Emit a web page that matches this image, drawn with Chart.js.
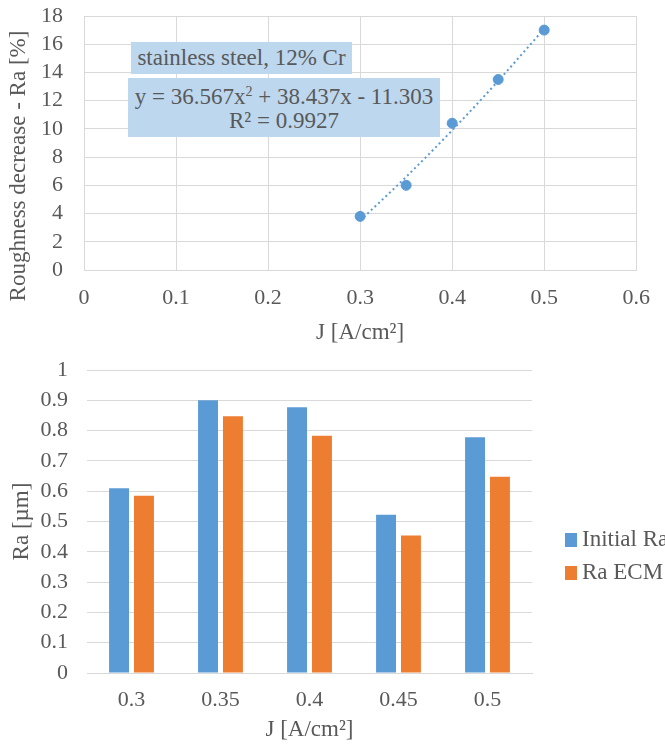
<!DOCTYPE html>
<html>
<head>
<meta charset="utf-8">
<script src="https://cdn.jsdelivr.net/npm/chart.js@4.4.1/dist/chart.umd.min.js"></script>
<style>
  html, body { margin: 0; padding: 0; background: #fff; overflow: hidden; }
  body { width: 665px; height: 749px; position: relative; font-family: "Liberation Serif", "DejaVu Serif", serif; color: #595959; }
  #top { position: absolute; left: 0; top: 0; width: 665px; height: 350px; }
  #bottom { position: absolute; left: 0; top: 345px; width: 665px; height: 404px; }
  .lbl { position: absolute; background: #bdd7ee; font-size: 23px; line-height: 24px; text-align: center; white-space: nowrap; box-sizing: border-box; }
  .lbl sup { font-size: 14px; vertical-align: 8px; line-height: 0; }
  #ytitle { position: absolute; left: -142px; top: 152px; width: 320px; height: 28px; line-height: 28px; font-size: 23px; text-align: center; white-space: nowrap; transform: rotate(-90deg); }
  #legend { position: absolute; left: 565px; top: 522px; font-size: 23px; white-space: nowrap; }
  #legend .item { height: 33px; line-height: 33px; position: relative; }
  #legend .sw { display: inline-block; width: 12px; height: 14px; margin-right: 5px; vertical-align: -1px; }
</style>
</head>
<body>
<canvas id="top" width="665" height="350"></canvas>
<canvas id="bottom" width="665" height="404"></canvas>
<div id="ytitle">Roughness decrease - Ra [%]</div>
<div class="lbl" style="left:131px;top:42px;width:221px;height:32px;line-height:32px;">stainless steel, 12% Cr</div>
<div class="lbl" style="left:128px;top:78px;width:312px;height:59px;padding-top:7px;">y = 36.567x<sup>2</sup> + 38.437x - 11.303<br>R² = 0.9927</div>
<div id="legend"></div>
<script>
// ---- Top chart data ----
const currentDensity = [0.3, 0.35, 0.4, 0.45, 0.5];
const roughnessDecrease = [3.8, 6.0, 10.4, 13.5, 17.0];
const trendX = [0.3, 0.35, 0.4, 0.45, 0.5];
const trendY = [3.5, 6.6, 9.9, 13.4, 17.1];
const topXTicks = ['0', '0.1', '0.2', '0.3', '0.4', '0.5', '0.6'];
const topYTicks = ['0', '2', '4', '6', '8', '10', '12', '14', '16', '18'];

// ---- Bottom chart data ----
const categories = ['0.3', '0.35', '0.4', '0.45', '0.5'];
const initialRa = [0.61, 0.90, 0.877, 0.522, 0.778];
const raECM = [0.585, 0.847, 0.783, 0.454, 0.648];
const seriesNames = ['Initial Ra', 'Ra ECM'];
const bottomYTicks = ['0', '0.1', '0.2', '0.3', '0.4', '0.5', '0.6', '0.7', '0.8', '0.9', '1'];

const BLUE = '#5b9bd5';
const ORANGE = '#ed7d31';
const GRID = '#d9d9d9';
const TEXT = '#595959';
const FONT = '"Liberation Serif", "DejaVu Serif", serif';

Chart.defaults.animation = false;
Chart.defaults.color = TEXT;
Chart.defaults.font.family = FONT;

new Chart(document.getElementById('top'), {
  type: 'scatter',
  data: {
    datasets: [
      {
        label: 'Trend',
        data: trendX.map((x, i) => ({x, y: trendY[i]})),
        showLine: true,
        borderColor: BLUE,
        borderWidth: 2,
        borderDash: [2, 3],
        pointRadius: 0,
        cubicInterpolationMode: 'monotone',
        fill: false
      },
      {
        label: 'Roughness decrease',
        data: currentDensity.map((x, i) => ({x, y: roughnessDecrease[i]})),
        backgroundColor: BLUE,
        borderColor: BLUE,
        pointRadius: 5,
        showLine: false
      }
    ]
  },
  options: {
    responsive: false,
    layout: { padding: { left: 0, right: 18, top: 16, bottom: 0 } },
    plugins: { legend: { display: false }, tooltip: { enabled: false } },
    scales: {
      x: {
        type: 'linear', min: 0, max: 0.6,
        afterFit: s => { s.height = 80; },
        grid: { color: GRID, drawTicks: false, lineWidth: 1 },
        border: { color: GRID },
        ticks: { stepSize: 0.1, autoSkip: false, padding: 15, font: { size: 22 }, color: TEXT,
                 callback: (v, i) => topXTicks[i] },
        title: { display: true, text: 'J [A/cm²]', font: { size: 23 }, color: TEXT, padding: { top: 0, bottom: 3 } }
      },
      y: {
        min: 0, max: 18,
        afterFit: s => { s.width = 84; s.paddingTop = 0; s.paddingBottom = 0; },
        grid: { color: GRID, drawTicks: false },
        border: { color: GRID },
        ticks: { stepSize: 2, autoSkip: false, padding: 21, font: { size: 22 }, color: TEXT,
                 callback: (v, i) => topYTicks[i] },
        title: { display: false }
      }
    }
  }
});

new Chart(document.getElementById('bottom'), {
  type: 'bar',
  data: {
    labels: categories,
    datasets: [
      { label: seriesNames[0], data: initialRa, backgroundColor: BLUE, borderWidth: 0 },
      { label: seriesNames[1], data: raECM, backgroundColor: ORANGE, borderWidth: 0 }
    ]
  },
  options: {
    responsive: false,
    layout: { padding: { left: 0, right: 133, top: 25, bottom: 0 } },
    datasets: { bar: { categoryPercentage: 0.56, barPercentage: 0.8 } },
    plugins: { legend: { display: false }, tooltip: { enabled: false } },
    scales: {
      x: {
        afterFit: s => { s.height = 76; },
        grid: { display: false, drawTicks: false },
        border: { display: true, color: GRID },
        ticks: { padding: 14, font: { size: 22 }, color: TEXT },
        title: { display: true, text: 'J [A/cm²]', font: { size: 23 }, color: TEXT, padding: { top: 0, bottom: 5 } }
      },
      y: {
        min: 0, max: 1,
        afterFit: s => { s.width = 87; s.paddingTop = 0; s.paddingBottom = 0; },
        grid: { color: GRID, drawTicks: false },
        border: { display: false },
        ticks: { stepSize: 0.1, autoSkip: false, padding: 19, font: { size: 22 }, color: TEXT,
                 callback: (v, i) => bottomYTicks[i] },
        title: { display: true, text: 'Ra [µm]', font: { size: 23 }, color: TEXT, padding: { top: 8, bottom: 0 } }
      }
    }
  }
});

// legend (HTML)
const legend = document.getElementById('legend');
[[seriesNames[0], BLUE], [seriesNames[1], ORANGE]].forEach(([name, col]) => {
  const d = document.createElement('div');
  d.className = 'item';
  d.innerHTML = '<span class="sw" style="background:' + col + '"></span>' + name;
  legend.appendChild(d);
});
</script>
</body>
</html>
